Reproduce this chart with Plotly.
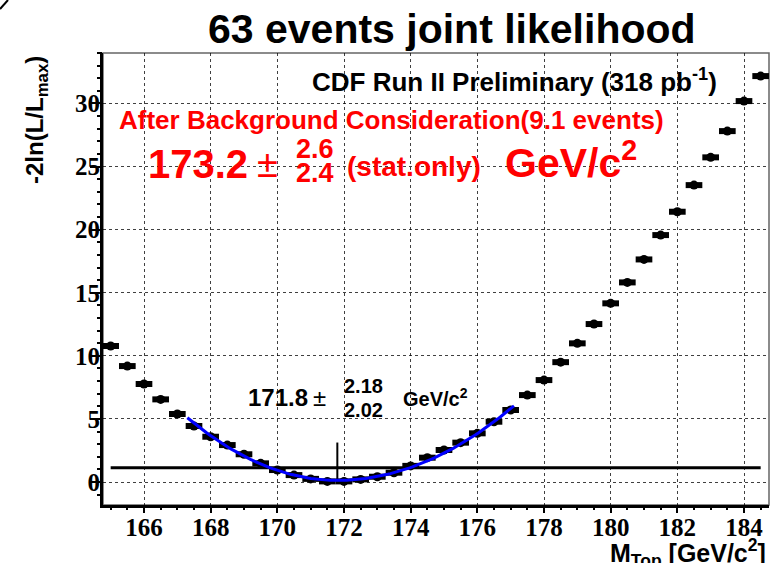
import plotly.graph_objects as go

# Scan of the joint likelihood over the top-quark mass hypothesis
mass = [165.0, 165.5, 166.0, 166.5, 167.0, 167.5, 168.0, 168.5, 169.0, 169.5,
        170.0, 170.5, 171.0, 171.5, 172.0, 172.5, 173.0, 173.5, 174.0, 174.5,
        175.0, 175.5, 176.0, 176.5, 177.0, 177.5, 178.0, 178.5, 179.0, 179.5,
        180.0, 180.5, 181.0, 181.5, 182.0, 182.5, 183.0, 183.5, 184.0, 184.5]
neg2lnL = [10.78, 9.19, 7.77, 6.55, 5.39, 4.44, 3.59, 2.93, 2.20, 1.48,
           0.95, 0.55, 0.25, 0.05, 0.05, 0.21, 0.42, 0.74, 1.28, 1.93,
           2.54, 3.12, 3.86, 4.78, 5.71, 6.89, 8.08, 9.50, 10.99, 12.52,
           14.16, 15.82, 17.64, 19.57, 21.42, 23.53, 25.73, 27.81, 30.19, 32.17]
bin_half_width = 0.25

# Parabolic fit around the minimum
FIT_CENTER = 171.8
FIT_ERR_LO = 2.02
FIT_ERR_HI = 2.18
FIT_MIN = 0.13
FIT_RANGE = (167.3, 177.1)

x_ticks = [166, 168, 170, 172, 174, 176, 178, 180, 182, 184]
y_ticks = [0, 5, 10, 15, 20, 25, 30]
X_RANGE = [164.77, 184.75]
Y_RANGE = [-1.82, 34.0]

n_fit = 120
fit_x = [FIT_RANGE[0] + (FIT_RANGE[1] - FIT_RANGE[0]) * i / (n_fit - 1) for i in range(n_fit)]
fit_y = [FIT_MIN + ((x - FIT_CENTER) / (FIT_ERR_LO if x < FIT_CENTER else FIT_ERR_HI)) ** 2
         for x in fit_x]

# plot-area geometry in pixels
W, H = 779, 563
L, R, T, B = 103, 769, 53, 505


def px_x(p):
    return (p - L) / (R - L)


def px_y(p):
    return (B - p) / (B - T)


fig = go.Figure()

# one-sigma level and the minimum marker
fig.add_trace(go.Scatter(x=[mass[0], mass[-1]], y=[FIT_MIN + 1, FIT_MIN + 1], mode="lines",
                         line=dict(color="black", width=3), hoverinfo="skip", showlegend=False))
fig.add_trace(go.Scatter(x=[FIT_CENTER, FIT_CENTER], y=[0, FIT_MIN + 3], mode="lines",
                         line=dict(color="black", width=2), hoverinfo="skip", showlegend=False))

fig.add_trace(go.Scatter(
    x=mass, y=neg2lnL, mode="markers",
    marker=dict(symbol="circle", size=9, color="black"),
    error_x=dict(type="constant", value=bin_half_width, thickness=6, width=0, color="black"),
    showlegend=False))

fig.add_trace(go.Scatter(x=fit_x, y=fit_y, mode="lines",
                         line=dict(color="#0000ff", width=3), showlegend=False))

# empty trace so the tick-mark axes get drawn
fig.add_trace(go.Scatter(x=[None], y=[None], xaxis="x2", yaxis="y2", mode="markers",
                         hoverinfo="skip", showlegend=False))

sans = "Liberation Sans"
serif = "Times New Roman"
tick_font = dict(family=serif, size=25, color="black", weight="bold")
grid = dict(showgrid=True, gridcolor="rgba(0,0,0,0.75)", griddash="dot", gridwidth=1)

fig.update_layout(
    width=W, height=H,
    margin=dict(l=L, r=W - R, t=T, b=H - B),
    paper_bgcolor="white", plot_bgcolor="white",
    showlegend=False,
    # labelled axes (labels sit tight against the frame)
    xaxis=dict(
        range=X_RANGE, tickvals=x_ticks, ticktext=[str(v) for v in x_ticks],
        ticks="", showline=True, linecolor="black", linewidth=3, mirror=False,
        zeroline=False, tickfont=tick_font, ticklabelstandoff=-2, **grid,
    ),
    yaxis=dict(
        range=Y_RANGE, tickvals=y_ticks, ticktext=[str(v) for v in y_ticks],
        ticks="", showline=True, linecolor="black", linewidth=3, mirror=False,
        zeroline=False, tickfont=tick_font, ticklabelstandoff=-5, **grid,
    ),
    # tick-mark axes
    xaxis2=dict(
        range=X_RANGE, overlaying="x", anchor="y", side="bottom", matches="x",
        tickvals=x_ticks, showticklabels=False, showgrid=False, zeroline=False,
        ticks="outside", ticklen=7, tickwidth=2, tickcolor="black",
        minor=dict(dtick=0.5, ticks="outside", ticklen=4, tickwidth=1.5,
                   tickcolor="black", showgrid=False),
    ),
    yaxis2=dict(
        range=Y_RANGE, overlaying="y", anchor="x", side="left", matches="y",
        tickvals=y_ticks, showticklabels=False, showgrid=False, zeroline=False,
        ticks="outside", ticklen=12, tickwidth=2, tickcolor="black",
        minor=dict(dtick=1, ticks="outside", ticklen=5, tickwidth=1.5,
                   tickcolor="black", showgrid=False),
    ),
)

# thin frame on the top and right sides
fig.add_shape(type="rect", xref="paper", yref="paper", x0=0, y0=0, x1=1, y1=1,
              line=dict(color="#666666", width=1.5), layer="below")
fig.add_shape(type="line", xref="paper", yref="paper",
              x0=px_x(0), y0=px_y(9), x1=px_x(8), y1=px_y(0),
              line=dict(color="black", width=2))


def note(text, xpx, ypx, size, color="black", xanchor="left", yanchor="middle",
         weight="bold", family=sans, angle=0):
    fig.add_annotation(text=text, xref="paper", yref="paper", x=px_x(xpx), y=px_y(ypx),
                       xanchor=xanchor, yanchor=yanchor, showarrow=False, textangle=angle,
                       font=dict(family=family, size=size, color=color, weight=weight))


note("63 events joint likelihood", 452, 29, 41, xanchor="center")
note("-2ln(L/L<sub>max</sub>)", 37, 120, 24, xanchor="center", angle=-90)
note("M<sub>Top</sub> [GeV/c<sup>2</sup>]", 768, 553, 25, xanchor="right")

note("CDF Run II Preliminary (318 pb<sup>-1</sup>)", 719, 80, 26, xanchor="right")
note("After Background Consideration(9.1 events)", 117, 120, 26, color="red")
note("173.2", 146, 164, 40, color="red")
note("±", 255, 164, 38, color="red", weight="normal")
note("2.6", 294, 149, 27, color="red")
note("2.4", 294, 173, 27, color="red")
note("(stat.only)", 345, 167, 28, color="red")
note("GeV/c<sup>2</sup>", 503, 160, 41, color="red")

note("171.8", 246, 397, 24)
note("±", 311, 397, 24, weight="normal")
note("2.18", 342, 386, 20)
note("2.02", 342, 410, 20)
note("GeV/c<sup>2</sup>", 401, 397, 20)

fig.write_html("out.html")
